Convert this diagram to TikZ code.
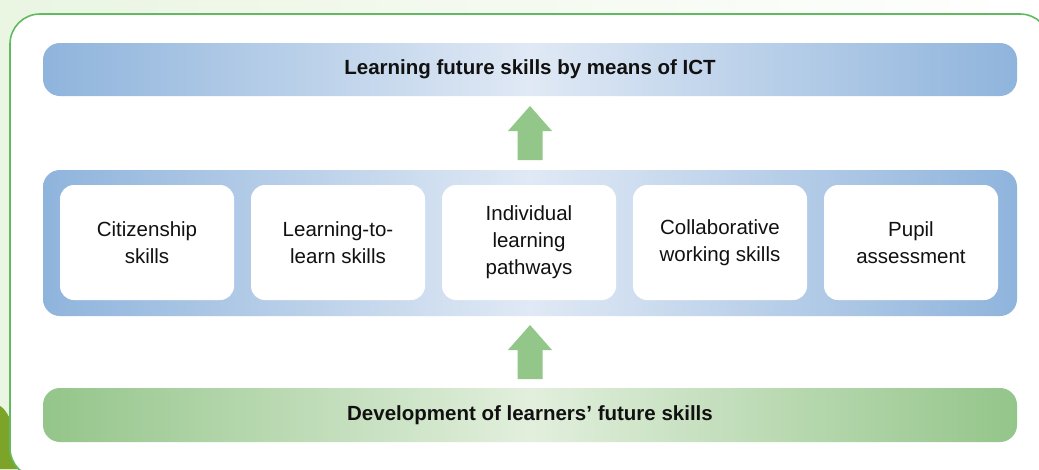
\documentclass[tikz,border=0pt]{standalone}
\usepackage{fontspec}
\setmainfont{Liberation Sans}
\usepackage{xcolor}
\usetikzlibrary{calc}
\definecolor{barblue}{HTML}{8FB4DC}
\definecolor{barpale}{HTML}{E0E9F5}
\definecolor{bargreen}{HTML}{94C58A}
\definecolor{barpalegreen}{HTML}{E2EFDD}
\definecolor{arrowgreen}{HTML}{93C78A}
\definecolor{framegreen}{HTML}{62BA60}
\definecolor{bggreen}{HTML}{EAF5E2}
\definecolor{leafgreen}{HTML}{7BA428}
\definecolor{inktext}{HTML}{111111}
\tikzset{
    bluebar/.style={rounded corners=17pt, left color=barblue, right color=barblue, middle color=barpale, minimum width=974pt, inner sep=0pt, text=inktext},
    greenbar/.style={rounded corners=17pt, left color=bargreen, right color=bargreen, middle color=barpalegreen, minimum width=974pt, minimum height=54pt, inner sep=0pt, text=inktext},
    skillbox/.style={fill=white, rounded corners=14pt, minimum width=174pt, minimum height=115pt, inner sep=0pt, align=center, text=inktext, font=\fontsize{20.5}{27}\selectfont},
    barfont/.style={font=\fontsize{20.5}{25}\selectfont\bfseries}
}

\begin{document}
\begin{tikzpicture}[x=1pt,y=-1pt]
        \useasboundingbox (0,0) rectangle (1039,469);
        \fill[left color=bggreen, right color=white] (0,0) rectangle (1039,469);
        \fill[leafgreen] (0,406) .. controls (9,410) and (20,440) .. (26,469) -- (0,469) -- cycle;
        \draw[framegreen, line width=1.6pt, fill=white, rounded corners=30pt] (10,14) rectangle (1050,478);
        \node[bluebar, barfont, minimum height=53pt] (title) at (530,69.5) {Learning future skills by means of ICT};
        \node[bluebar, minimum height=146pt] (panel) at (530,243) {};
        \foreach \lbl [count=\i] in {{Citizenship\\skills},{Learning-to-\\learn skills},{Individual\\learning\\pathways},{Collaborative\\working skills},{Pupil\\assessment}}{
            \pgfmathsetmacro{\cx}{147+191*(\i-1)}
            \node[skillbox] (skill\i) at (\cx,242.5) {\lbl};
            }
        \node[greenbar, barfont] (devbar) at (530,415) {Development of learners’ future skills};
        \coordinate (up1) at ($(title.south)!.5!(panel.north)$);
        \coordinate (up2) at ($(panel.south)!.5!(devbar.north)$);
        \foreach \m in {up1,up2}{
            \fill[arrowgreen] (\m)++(-12.5,27)--++(0,-29)--++(-9.5,0)--++(22,-25)--++(22,25)--++(-9.5,0)--++(0,29)--cycle;
            }
    \end{tikzpicture}
\end{document}
